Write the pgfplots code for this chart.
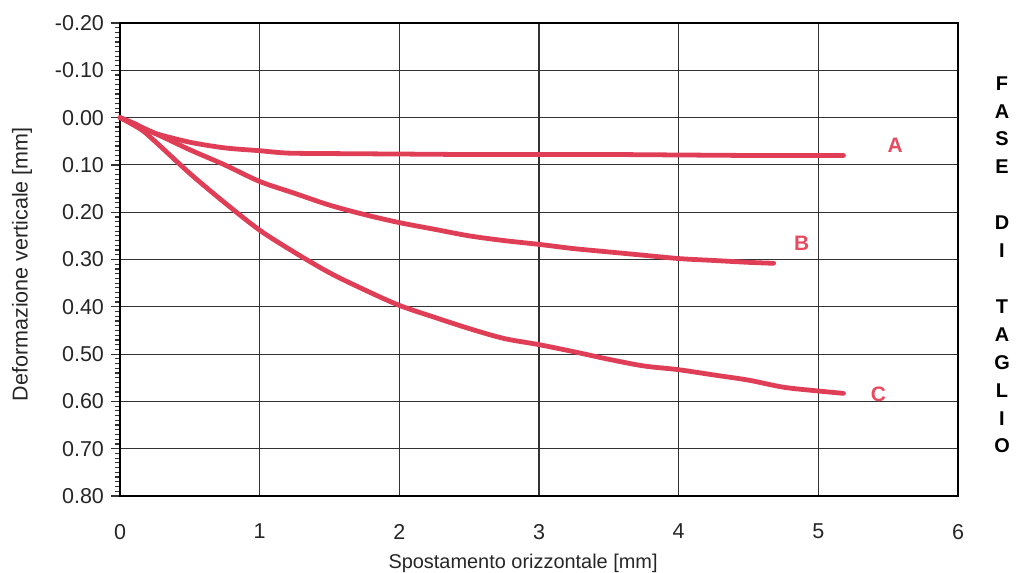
\documentclass[border=0pt]{standalone}
\usepackage{fontspec}
\setmainfont{Liberation Sans}
\usepackage{pgfplots}
\pgfplotsset{compat=1.18}
\definecolor{curve}{RGB}{224,62,86}
\definecolor{lab}{RGB}{232,74,96}
\definecolor{gridc}{RGB}{50,50,50}
\begin{document}
\begin{tikzpicture}
\useasboundingbox (-60bp,-38.5bp) rectangle (455.5bp,248bp);
\begin{axis}[
  at={(0,0)}, anchor=south west,
  scale only axis, width=419bp, height=236.5bp,
  xmin=0, xmax=6, ymin=-0.2, ymax=0.8, y dir=reverse,
  xtick={0,1,2,3,4,5,6}, xticklabels={0,1,2,3,4,5,6},
  ytick={-0.2,-0.1,0,0.1,0.2,0.3,0.4,0.5,0.6,0.7,0.8},
  yticklabels={-0.20,-0.10,0.00,0.10,0.20,0.30,0.40,0.50,0.60,0.70,0.80},
  minor y tick num=9,
  tick align=outside, tick pos=left,
  x tick style={draw=none},
  y tick style={gridc, line width=0.6pt},
  major tick length=4.5bp, minor tick length=2.5bp,
  grid=major, major grid style={gridc, line width=0.55pt},
  axis line style={black, line width=1.4pt},
  tick label style={font=\fontsize{10.8}{12}\selectfont, text=black!85},
  xticklabel style={yshift=-6bp},
  yticklabel style={xshift=0bp},
  xlabel={Spostamento orizzontale [mm]},
  ylabel={Deformazione verticale [mm]},
  xlabel style={font=\fontsize{10}{12}\selectfont, text=black!85, at={(axis description cs:0.481,0)}, anchor=center, yshift=-33.5bp},
  ylabel style={font=\fontsize{10.8}{12}\selectfont, text=black!85, at={(axis description cs:-0.117,0.49)}, anchor=center},
  clip=false,
]
\addplot[curve, line width=2.4pt, line join=round, line cap=round, smooth] coordinates {
(0,0) (0.1,0.012) (0.25,0.033) (0.5,0.052) (0.75,0.064) (1,0.070) (1.2,0.075) (1.5,0.076) (2,0.077) (2.5,0.078) (3,0.078) (3.5,0.078) (4,0.079) (4.5,0.080) (5,0.080) (5.18,0.080)
};
\addplot[curve, line width=2.4pt, line join=round, line cap=round, smooth] coordinates {
(0,0) (0.15,0.02) (0.3,0.04) (0.5,0.068) (0.75,0.100) (1,0.135) (1.25,0.16) (1.5,0.185) (1.75,0.205) (2,0.222) (2.25,0.236) (2.5,0.25) (2.75,0.26) (3,0.268) (3.25,0.277) (3.5,0.284) (3.75,0.291) (4,0.298) (4.25,0.302) (4.5,0.306) (4.68,0.308)
};
\addplot[curve, line width=2.4pt, line join=round, line cap=round, smooth] coordinates {
(0,0) (0.15,0.025) (0.25,0.05) (0.5,0.118) (0.75,0.18) (1,0.238) (1.25,0.285) (1.5,0.328) (1.75,0.364) (2,0.397) (2.25,0.422) (2.5,0.446) (2.75,0.467) (3,0.48) (3.25,0.495) (3.5,0.511) (3.75,0.525) (4,0.533) (4.25,0.544) (4.5,0.555) (4.75,0.57) (5,0.578) (5.18,0.583)
};
\node[text=lab, font=\bfseries\fontsize{10.5}{12}\selectfont] at (axis cs:5.55,0.059) {A};
\node[text=lab, font=\bfseries\fontsize{10.5}{12}\selectfont] at (axis cs:4.88,0.266) {B};
\node[text=lab, font=\bfseries\fontsize{10.5}{12}\selectfont] at (axis cs:5.43,0.584) {C};
\end{axis}
\node[anchor=north, align=center, inner sep=0pt, font=\bfseries\fontsize{10}{14}\selectfont] at (441bp,210bp)
 {F\\A\\S\\E\\[14bp]D\\I\\[14bp]T\\A\\G\\L\\I\\O};
\end{tikzpicture}
\end{document}
